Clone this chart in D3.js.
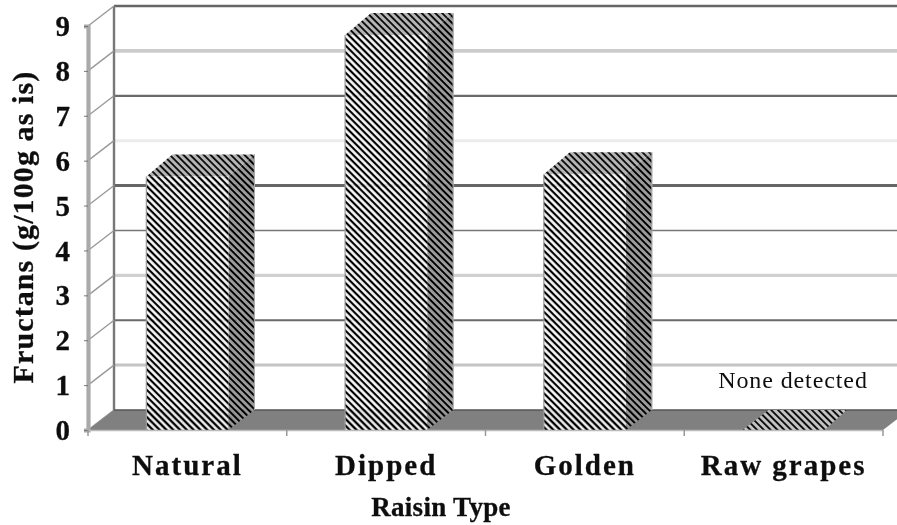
<!DOCTYPE html>
<html><head><meta charset="utf-8">
<script src="https://cdn.jsdelivr.net/npm/d3@7"></script>
<style>html,body{margin:0;padding:0;background:#fff}svg{display:block}
text{font-family:"Liberation Serif",serif;fill:#111}</style></head>
<body><svg id="c" width="897" height="525"></svg>
<script>
const categories = ["Natural","Dipped","Golden","Raw grapes"];
const fructans = [5.65, 8.8, 5.7, 0];
const yTicks = [0,1,2,3,4,5,6,7,8,9];
const gridColors = ["#666","#c4c4c4","#6a6a6a","#d0d0d0","#777","#666","#ececec","#6a6a6a","#cccccc","#666"];
const gridWidths = [2,3,2,3.4,1.4,3,3,2.2,3.6,2.4];
const noneLabel = "None detected";
const xTitle = "Raisin Type";
const yTitle = "Fructans (g/100g as is)";

const W=897,H=525,dx=26,dy=-20;
const svg=d3.select("#c");
const defs=svg.append("defs");
defs.append("filter").attr("id","soft").attr("x",0).attr("y",0).attr("width","100%").attr("height","100%")
  .append("feGaussianBlur").attr("stdDeviation",0.4);
function stripes(id,period,cols){
  const p=defs.append("pattern").attr("id",id).attr("patternUnits","userSpaceOnUse")
    .attr("width",period).attr("height",period).attr("patternTransform","rotate(-45)");
  let x0=0;
  cols.forEach(([c,w])=>{p.append("rect").attr("x",x0).attr("y",0).attr("width",w).attr("height",period).attr("fill",c);x0+=w;});
}
stripes("pFront",4.8,[["#000",2],["#8a8a8a",0.4],["#fff",2],["#8a8a8a",0.4]]);
stripes("pTop",4.8,[["#111",2],["#b4b4b4",2.8]]);
stripes("pSide",4.8,[["#000",2.2],["#999",2.6]]);
stripes("pFlat",4.8,[["#111",2],["#c4c4c4",2.8]]);

const x=d3.scaleBand().domain(categories).range([88,883]).paddingInner(0.587).paddingOuter(0.2935);
const y=d3.scaleLinear().domain([0,9]).range([430,26]);
const g=svg.append("g").attr("filter","url(#soft)");
g.append("rect").attr("width",W).attr("height",H).attr("fill","#fff");

// back wall gridlines
g.append("g").selectAll("line").data(yTicks.slice(1)).join("line")
  .attr("x1",88+dx).attr("x2",W).attr("y1",d=>y(d)+dy).attr("y2",d=>y(d)+dy)
  .attr("stroke",d=>gridColors[d]).attr("stroke-width",d=>gridWidths[d]);
// back wall left edge
g.append("line").attr("x1",88+dx).attr("x2",88+dx).attr("y1",y(9)+dy).attr("y2",y(0)+dy).attr("stroke","#777").attr("stroke-width",2.4);
// side wall diagonals
g.append("g").selectAll("line").data(yTicks).join("line")
  .attr("x1",88).attr("y1",d=>y(d)).attr("x2",88+dx).attr("y2",d=>y(d)+dy)
  .attr("stroke","#999").attr("stroke-width",1.4);
// floor
const floorPts=[[88,y(0)],[88+dx,y(0)+dy],[883+dx,y(0)+dy],[883,y(0)]];
g.append("polygon").attr("points",floorPts.join(" ")).attr("fill","#808080");
g.append("line").attr("x1",88+dx).attr("x2",W).attr("y1",y(0)+dy).attr("y2",y(0)+dy).attr("stroke","#555").attr("stroke-width",1.4);

// bars
const bars=g.append("g").selectAll("g").data(categories.map((c,i)=>({c,v:fructans[i]}))).join("g");
bars.each(function(d){
  const s=d3.select(this),l=x(d.c),r=l+x.bandwidth(),t=y(d.v),b=y(0);
  if(d.v===0){
    s.append("polygon").attr("points",[[l,b],[l+dx,b+dy],[r+dx-4,b+dy],[r,b]].join(" ")).attr("fill","url(#pFlat)");
    return;
  }
  s.append("polygon").attr("points",[[l,t],[l+dx,t+dy-2],[r+dx,t+dy-2],[r,t]].join(" ")).attr("fill","url(#pTop)");
  s.append("polygon").attr("points",[[r,t],[r+dx,t+dy-2],[r+dx,b+dy],[r,b]].join(" ")).attr("fill","url(#pSide)");
  s.append("rect").attr("x",l).attr("y",t).attr("width",r-l).attr("height",b-t).attr("fill","url(#pFront)");
  s.append("line").attr("x1",l).attr("x2",l).attr("y1",t).attr("y2",b).attr("stroke","#999").attr("stroke-width",1.2);
  s.append("line").attr("x1",r+dx).attr("x2",r+dx).attr("y1",t+dy-2).attr("y2",b+dy).attr("stroke","#aaa").attr("stroke-width",1.2);
});

// y axis
const yAxis=g.append("g").attr("transform","translate(88,0)")
  .call(d3.axisLeft(y).tickValues(yTicks).tickSize(4).tickPadding(14).tickFormat(d3.format("d")));
yAxis.select(".domain").attr("stroke","#aaa").attr("stroke-width",4.2);
yAxis.selectAll(".tick line").attr("stroke","#777");
yAxis.selectAll("text").style("font-family","Liberation Serif").style("font-size","29px").style("font-weight","bold").style("stroke","#111").style("stroke-width","0.3px").attr("fill","#111").attr("dy","0.33em");

// x axis
const xAxis=g.append("g").attr("transform",`translate(0,${y(0)})`)
  .call(d3.axisBottom(x).tickSize(0).tickPadding(24));
xAxis.select(".domain").attr("stroke","#bbb").attr("stroke-width",1.5);
xAxis.selectAll("text").style("font-family","Liberation Serif").style("font-size","29px").style("font-weight","bold").style("letter-spacing","2px").style("stroke","#111").style("stroke-width","0.3px").attr("fill","#111");
const boundaries=d3.range(categories.length+1).map(i=>88+x.step()*i);
g.append("g").selectAll("line").data(boundaries).join("line")
  .attr("x1",d=>d).attr("x2",d=>d).attr("y1",y(0)).attr("y2",y(0)+6).attr("stroke","#999").attr("stroke-width",1.5);

g.append("text").attr("x",793).attr("y",388).attr("text-anchor","middle")
  .style("font-size","24px").style("letter-spacing","0.9px").attr("fill","#333").text(noneLabel);
g.append("text").attr("x",441).attr("y",516).attr("text-anchor","middle")
  .style("font-size","27px").style("font-weight","bold").style("letter-spacing","0.3px").style("stroke","#111").style("stroke-width","0.3px").text(xTitle);
g.append("text").attr("transform","translate(33,227) rotate(-90)").attr("text-anchor","middle")
  .style("font-size","30px").style("font-weight","bold").style("letter-spacing","1.1px").style("stroke","#111").style("stroke-width","0.3px").text(yTitle);
</script></body></html>
